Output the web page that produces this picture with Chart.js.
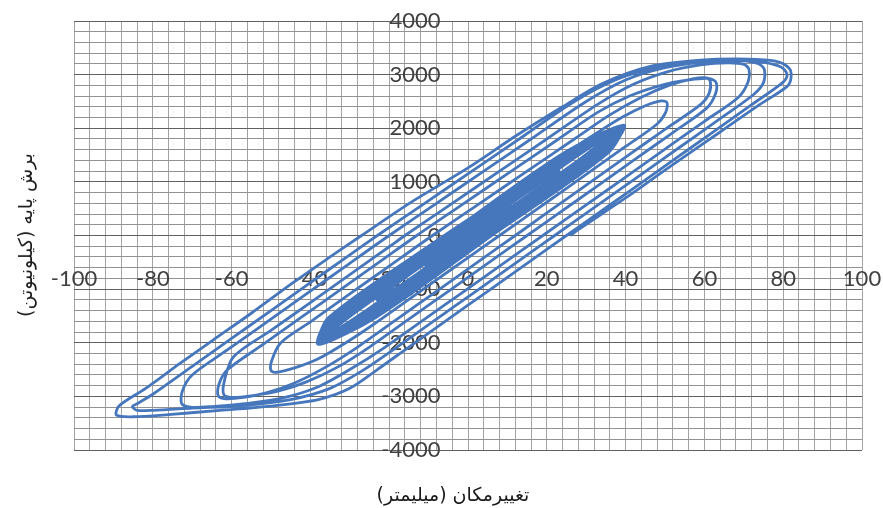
<!DOCTYPE html>
<html>
<head>
<meta charset="utf-8">
<script src="https://cdn.jsdelivr.net/npm/chart.js@4/dist/chart.umd.min.js"></script>
<style>
  html, body { margin: 0; padding: 0; background: #fff; }
  #wrap { position: relative; width: 883px; height: 508px; overflow: hidden; }
  #c { position: absolute; left: 0; top: 0; }
  .ttl { position: absolute; font-family: "DejaVu Sans", sans-serif; font-size: 19px; color: #1a1a1a; white-space: nowrap; direction: rtl; }
  #xt { left: 453px; top: 494px; transform: translate(-50%, -50%); }
  #yt { left: 25px; top: 235px; transform: translate(-50%, -50%) rotate(-90deg); }
</style>
</head>
<body>
<div id="wrap">
  <canvas id="c" width="883" height="508"></canvas>
  <div class="ttl" id="xt">تغییرمکان (میلیمتر)</div>
  <div class="ttl" id="yt">برش پایه (کیلونیوتن)</div>
</div>
<script>
// Cyclic test record: [displacement (mm), base shear (kN)], one array per amplitude stage.
// Near-elastic cycles (±10 to ±40 mm)
const loop1 = [[0,0],[8.1,420],[10.8,560],[8.6,420],[0.5,0],[-7.6,-420],[-10.8,-560],[-8.6,-420],[-0.5,0],
  [16.8,900],[23.1,1200],[18.1,900],[0.8,0],[-16.5,-900],[-23.1,-1200],[-18.1,-900],[-0.8,0],
  [26.6,1425],[36.5,1900],[28.4,1425],[1,0],[-26.4,-1425],[-36.5,-1900],[-28.4,-1425],[-1,0]];
const loop2 = [[27.1,1462],[37.5,1950],[29.6,1462],[1.5,0],[-26.6,-1462],[-37.5,-1950],[-29.6,-1462],[-1.5,0],
  [27.1,1485],[38.1,1980],[30.6,1485],[2,0],[-26.6,-1485],[-37.8,-1960],[-30.6,-1485],[-2,0],
  [25.4,1425],[36.5,1900],[29.9,1425],[2.5,0],[-24.9,-1425],[-36.5,-1900],[-29.9,-1425],[-2.5,0]];
const loop3 = [[25.6,1462],[37.5,1950],[31.1,1462],[3,0],[-25.1,-1462],[-37.5,-1950],[-31.1,-1462],[-3,0],
  [25.85,1500],[38.5,2000],[32.35,1500],[3.5,0],[-25.35,-1500],[-38,-1980],[-32.35,-1500],[-3.5,0],
  [25.35,1500],[38.5,2000],[32.85,1500],[4,0],[-24.85,-1500],[-37.5,-1970],[-32.85,-1500],[-4,0]];
const loop4 = [[25.3,1522],[39,2030],[33.8,1522],[4.5,0],[-24.8,-1522],[-38,-2000],[-33.8,-1522],[-4.5,0],
  [25.1,1537],[39.4,2050],[34.6,1537],[5,0],[-24.6,-1537],[-37.5,-2000],[-34.6,-1537],[-5,0],
  [24.7,1545],[39.6,2060],[35.2,1545],[5.5,0],[-24.2,-1545],[-38,-2030],[-35.2,-1545],[-5.5,0],
  [24.1,1530],[39.2,2040],[35.4,1530],[6,0],[-23.4,-1530],[-37.5,-2000],[-35.4,-1530],[-6,0]];
// Inelastic cycles (±50 to ±90 mm)
const loop5 = [[4,490],[14,1000],[24,1500],[32,1880],[39,2200],[45,2420],[49,2510],[50.5,2480],[50.2,2300],[48,2080],[40,1660],[30,1140],[20,620],[8,0],[-4,-620],[-14,-1140],[-24,-1660],[-31,-2000],[-38,-2300],[-44,-2470],[-48.5,-2550],[-50,-2520],[-49.8,-2330],[-47.5,-2000],[-40,-1610],[-30,-1090],[-20,-570]];
const loop6 = [[-9,0],[3,600],[15,1200],[27,1800],[36,2250],[44,2580],[51,2800],[57,2920],[60.5,2940],[61.5,2870],[61.2,2650],[59,2440],[50,1980],[40,1460],[30,940],[20,420],[12,0],[2,-520],[-8,-1040],[-18,-1560],[-28,-2080],[-36,-2450],[-44,-2750],[-51,-2930],[-57,-3020],[-61.5,-3045],[-63.4,-2990],[-63.1,-2750],[-61,-2500],[-52,-2030],[-42,-1510],[-32,-990],[-22,-470]];
const loop7 = [[-13,0],[-1,600],[11,1200],[23,1800],[33,2300],[41,2600],[49,2800],[56,2900],[61,2930],[63,2850],[62.7,2620],[60.5,2370],[52,1920],[42,1400],[32,880],[22,360],[15,0],[5,-520],[-5,-1040],[-15,-1560],[-25,-2080],[-33,-2450],[-41,-2730],[-48,-2900],[-55,-2990],[-60,-3020],[-62,-2960],[-61.8,-2700],[-59.5,-2260],[-50,-1770],[-40,-1250],[-30,-730],[-20,-210]];
const loop8 = [[-16,0],[-4,600],[8,1200],[20,1800],[33,2450],[42,2820],[51,3060],[59,3180],[66,3220],[70,3190],[71.3,3100],[71,2850],[68.5,2570],[60,2130],[50,1610],[40,1090],[30,570],[19,0],[9,-520],[-1,-1040],[-11,-1560],[-21,-2080],[-30,-2500],[-38,-2820],[-47,-3030],[-56,-3130],[-65,-3190],[-70.5,-3200],[-72.7,-3130],[-72.4,-2880],[-70,-2600],[-61,-2130],[-51,-1610],[-41,-1090],[-31,-570]];
const loop9 = [[-20,0],[-8,600],[4,1200],[16,1800],[30,2500],[40,2900],[50,3130],[60,3240],[68,3260],[73.5,3210],[75.2,3100],[75,2850],[72.5,2630],[64,2180],[54,1660],[44,1140],[33,570],[22,0],[12,-520],[2,-1040],[-8,-1560],[-18,-2080],[-27,-2530],[-35,-2850],[-45,-3060],[-57,-3170],[-70,-3220],[-80,-3260],[-84,-3260],[-85.2,-3190],[-84.3,-3150],[-80,-2960],[-70,-2440],[-60,-1920],[-50,-1400],[-40,-880],[-30,-360]];
const loop10 = [[-23,0],[-11,600],[1,1200],[13,1800],[27,2500],[38,2920],[48,3130],[58,3230],[67,3260],[75,3230],[79.5,3140],[81,3000],[80,2860],[72,2440],[62,1920],[52,1400],[42,880],[32,360],[25,0],[15,-520],[5,-1040],[-5,-1560],[-15,-2080],[-23,-2500],[-30,-2850],[-38,-3060],[-50,-3180],[-63,-3260],[-76,-3340],[-85,-3380],[-89.2,-3350],[-88.6,-3180],[-82,-2860],[-73,-2380],[-64.7,-1950],[-55,-1450],[-44.4,-880],[-35,-400]];
const loop11 = [[-27,0],[-14,640],[0,1260],[12,1850],[24,2400],[34,2830],[46,3150],[59,3270],[71,3290],[78,3250],[81.5,3120],[82,2950],[81,2780],[74,2440],[64,1930],[51,1270],[40,700],[28,110],[26,0]];

// Axis tick settings
const xMin = -100, xMax = 100, xStep = 4, xLabelEvery = 20;
const yMin = -4000, yMax = 4000, yStep = 200, yLabelEvery = 1000;

const loops = [loop1, loop2, loop3, loop4, loop5, loop6, loop7, loop8, loop9, loop10, loop11];
const points = loops.flat().map(([x, y]) => ({ x, y }));

const tickFont = { family: 'Lato, "Open Sans", sans-serif', size: 22 };
// keep the plot area fixed: tick labels may overhang it
const noOverhang = s => { s.paddingLeft = 0; s.paddingRight = 0; s.paddingTop = 0; s.paddingBottom = 0; };

new Chart(document.getElementById('c'), {
  type: 'scatter',
  data: {
    datasets: [{
      data: points,
      showLine: true,
      borderColor: '#4677bd',
      borderWidth: 2.8,
      pointRadius: 0,
      tension: 0.3,
      fill: false
    }]
  },
  options: {
    responsive: false,
    animation: false,
    layout: { padding: { left: 74, top: 21, right: 21, bottom: 58 } },
    plugins: { legend: { display: false }, tooltip: { enabled: false } },
    scales: {
      x: {
        type: 'linear',
        position: { y: 0 },
        min: xMin, max: xMax,
        afterFit: noOverhang,
        ticks: {
          stepSize: xStep, autoSkip: false, maxRotation: 0, minRotation: 0,
          padding: 30, color: '#404040', font: tickFont,
          callback: v => (v % xLabelEvery === 0 ? String(v) : '')
        },
        grid: { color: '#a2a2a2', lineWidth: 1, drawTicks: false },
        border: { display: false }
      },
      y: {
        type: 'linear',
        position: { x: -7 },
        min: yMin, max: yMax,
        afterFit: noOverhang,
        ticks: {
          stepSize: yStep, autoSkip: false,
          padding: 0, color: '#404040', font: tickFont,
          callback: v => (v % yLabelEvery === 0 ? String(v) : '')
        },
        grid: {
          color: ctx => (ctx.tick && ctx.tick.value % yLabelEvery === 0 ? '#606060' : '#929292'),
          lineWidth: 1, drawTicks: false
        },
        border: { display: false }
      }
    }
  }
});
</script>
</body>
</html>
